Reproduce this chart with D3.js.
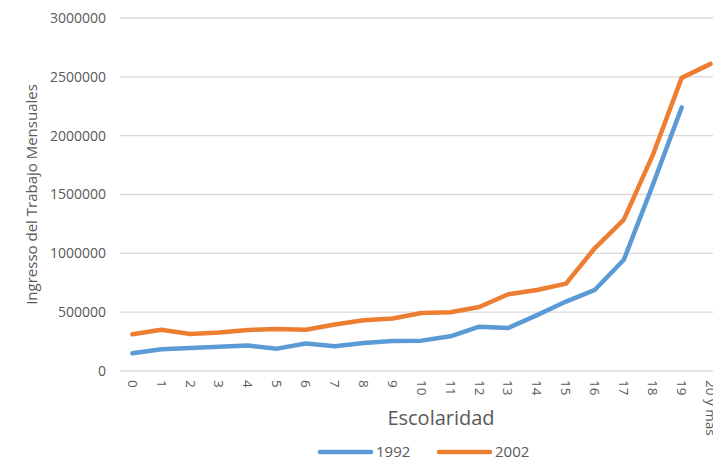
<!DOCTYPE html>
<html><head><meta charset="utf-8">
<script src="https://cdn.jsdelivr.net/npm/d3@7"></script>
<style>body{margin:0;background:#fff;overflow:hidden}svg{display:block}</style>
</head><body>
<svg id="c" width="713" height="462"></svg>
<script>
const categories = ["0","1","2","3","4","5","6","7","8","9","10","11","12","13","14","15","16","17","18","19","20 y más"];
const series1992 = [150000,184000,196000,207000,216000,190000,233000,210000,238000,255000,258000,295000,377000,366000,475000,590000,690000,945000,1580000,2240000,null];
const series2002 = [312000,350000,315000,327000,349000,357000,350000,395000,431000,446000,493000,499000,544000,652000,689000,743000,1045000,1287000,1834000,2491000,2610000];
const yTicks = [0,500000,1000000,1500000,2000000,2500000,3000000];
const seriesNames = ["1992","2002"];
const colors = ["#5b9bd5","#ed7d31"];

(function(){
const svg = d3.select("#c");
const font = "'Open Sans', 'Noto Sans', sans-serif";
const mLeft = 118, mRight = 725, mTop = 18, mBottom = 371;
const x = d3.scaleBand().domain(categories).range([mLeft, mRight]);
const y = d3.scaleLinear().domain([0, 3000000]).range([mBottom, mTop]);

// gridlines
svg.append("g").selectAll("line").data(yTicks).join("line")
  .attr("x1", mLeft + 2).attr("x2", 713)
  .attr("y1", d => y(d)).attr("y2", d => y(d))
  .attr("stroke", "#d9d9d9").attr("stroke-width", 1.3);

// y axis labels
const yAxis = d3.axisLeft(y).tickValues(yTicks).tickFormat(d3.format("d")).tickSize(0).tickPadding(12);
const gy = svg.append("g").attr("transform", `translate(${mLeft},0)`).call(yAxis);
gy.select(".domain").remove();
gy.selectAll("text").attr("font-family", font).attr("font-size", 14).attr("fill", "#595959");

// x axis labels rotated
const xAxis = d3.axisBottom(x).tickSize(0).tickPadding(0);
const gx = svg.append("g").attr("transform", `translate(0,${mBottom})`).call(xAxis);
gx.select(".domain").remove();
gx.selectAll("text")
  .attr("font-family", font).attr("font-size", 13.5).attr("fill", "#595959")
  .attr("text-anchor", "start").attr("dy", "0.35em").attr("y", 0)
  .attr("transform", "translate(0,9) rotate(90)");

// lines
const allSeries = [series1992, series2002];
allSeries.forEach((s, i) => {
  const line = d3.line()
    .defined(d => d != null)
    .x((d, j) => x(categories[j]) + x.bandwidth() / 2)
    .y(d => y(d));
  svg.append("path").datum(s)
    .attr("d", line)
    .attr("fill", "none").attr("stroke", colors[i]).attr("stroke-width", 4.5)
    .attr("stroke-linejoin", "round").attr("stroke-linecap", "round");
});

// axis titles
svg.append("text").attr("transform", `translate(37,${(mTop + mBottom) / 2}) rotate(-90)`)
  .attr("text-anchor", "middle").attr("font-family", font).attr("font-size", 15)
  .attr("fill", "#595959").text("Ingresso del Trabajo Mensuales");
svg.append("text").attr("x", 441).attr("y", 425)
  .attr("text-anchor", "middle").attr("font-family", font).attr("font-size", 20)
  .attr("fill", "#595959").text("Escolaridad");

// legend
const legX = [320, 439];
seriesNames.forEach((n, i) => {
  const g = svg.append("g").attr("transform", `translate(${legX[i]},452)`);
  g.append("line").attr("x1", 0).attr("x2", 51).attr("y1", 0).attr("y2", 0)
    .attr("stroke", colors[i]).attr("stroke-width", 4.5).attr("stroke-linecap", "round");
  g.append("text").attr("x", 56).attr("y", 0).attr("dy", "0.35em")
    .attr("font-family", font).attr("font-size", 15).attr("fill", "#595959").text(n);
});
})();
</script>
</body></html>
